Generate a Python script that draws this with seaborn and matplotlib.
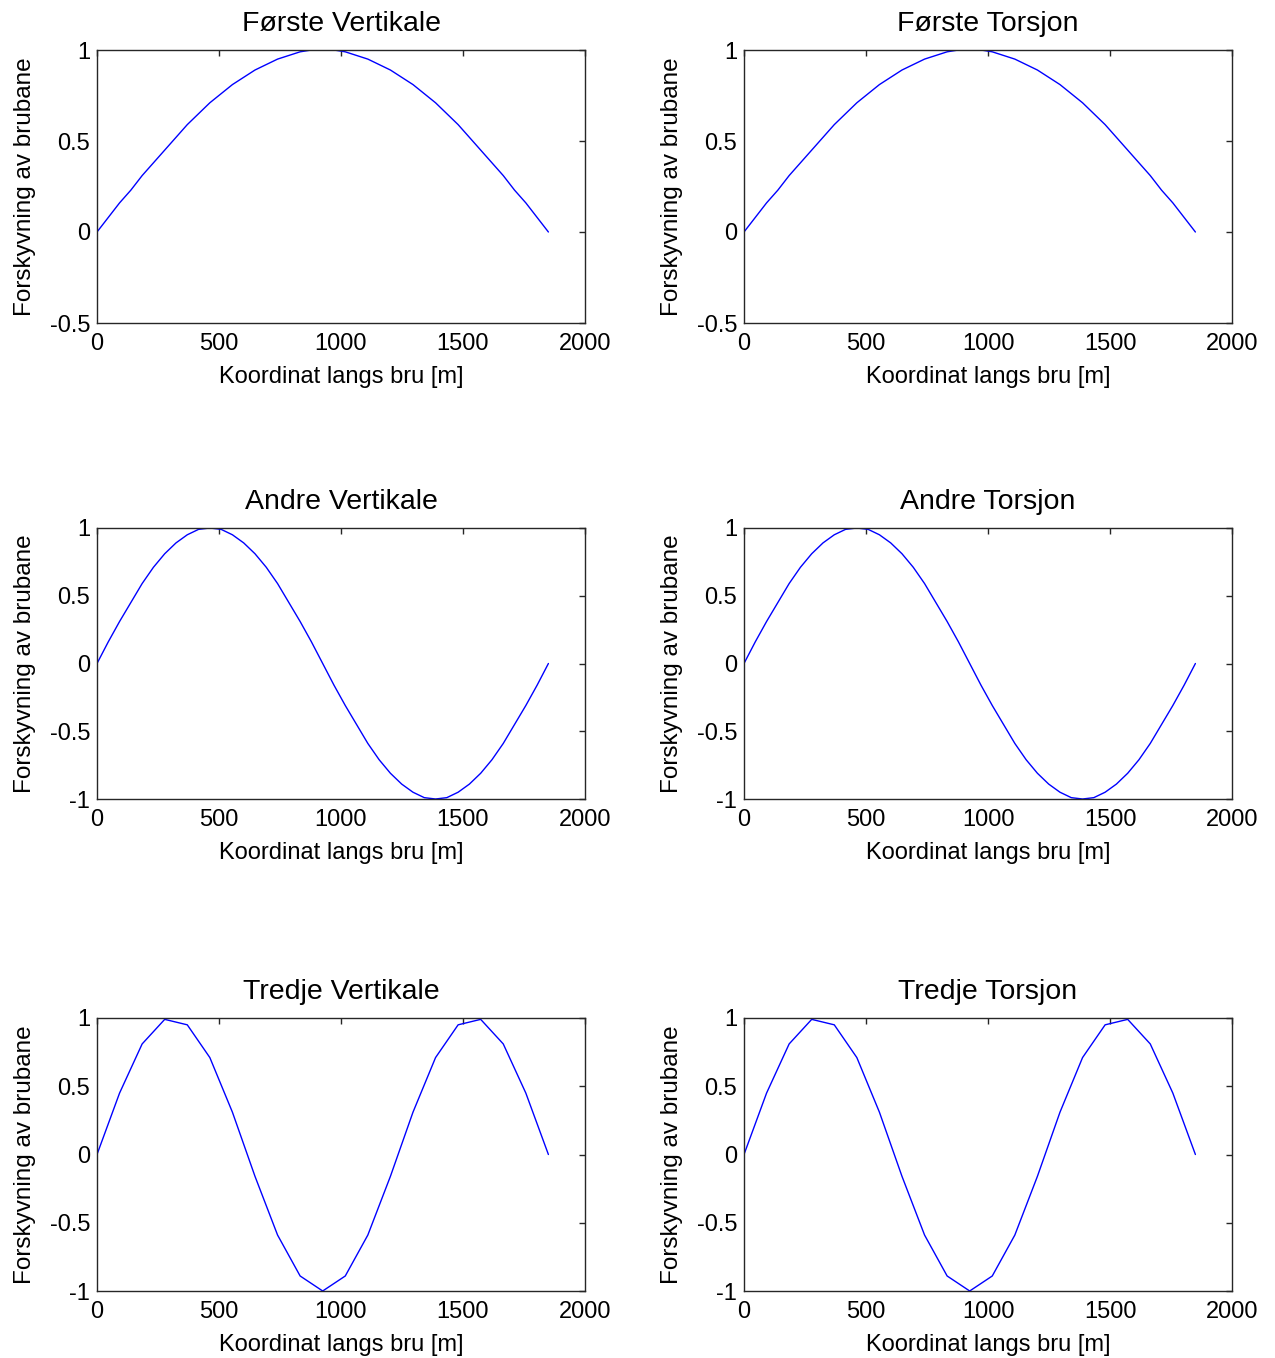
import matplotlib
matplotlib.use("Agg")
import matplotlib.pyplot as plt
import seaborn as sns
import pandas as pd

# ---- data -------------------------------------------------------------
# fine node set (modes 1 and 2)
x_fine = [0, 46.25, 92.5, 138.75, 185, 231.25, 277.5, 323.75, 370, 416.25,
          462.5, 508.75, 555, 601.25, 647.5, 693.75, 740, 786.25, 832.5, 878.75,
          925, 971.25, 1017.5, 1063.75, 1110, 1156.25, 1202.5, 1248.75, 1295, 1341.25,
          1387.5, 1433.75, 1480, 1526.25, 1572.5, 1618.75, 1665, 1711.25, 1757.5, 1803.75,
          1850]
# coarse node set (mode 3)
x_coarse = [0, 92.5, 185, 277.5, 370, 462.5, 555, 647.5, 740, 832.5, 925,
            1017.5, 1110, 1202.5, 1295, 1387.5, 1480, 1572.5, 1665, 1757.5, 1850]

forste_vertikale = [0, 0.08, 0.16, 0.23, 0.31, 0.38, 0.45, 0.52, 0.59, 0.65,
                    0.71, 0.76, 0.81, 0.85, 0.89, 0.92, 0.95, 0.97, 0.99, 1.0,
                    1.0, 1.0, 0.99, 0.97, 0.95, 0.92, 0.89, 0.85, 0.81, 0.76,
                    0.71, 0.65, 0.59, 0.52, 0.45, 0.38, 0.31, 0.23, 0.16, 0.08, 0]
forste_torsjon = [0, 0.08, 0.16, 0.23, 0.31, 0.38, 0.45, 0.52, 0.59, 0.65,
                  0.71, 0.76, 0.81, 0.85, 0.89, 0.92, 0.95, 0.97, 0.99, 1.0,
                  1.0, 1.0, 0.99, 0.97, 0.95, 0.92, 0.89, 0.85, 0.81, 0.76,
                  0.71, 0.65, 0.59, 0.52, 0.45, 0.38, 0.31, 0.23, 0.16, 0.08, 0]
andre_vertikale = [0, 0.16, 0.31, 0.45, 0.59, 0.71, 0.81, 0.89, 0.95, 0.99,
                   1.0, 0.99, 0.95, 0.89, 0.81, 0.71, 0.59, 0.45, 0.31, 0.16,
                   0, -0.16, -0.31, -0.45, -0.59, -0.71, -0.81, -0.89, -0.95, -0.99,
                   -1.0, -0.99, -0.95, -0.89, -0.81, -0.71, -0.59, -0.45, -0.31, -0.16, 0]
andre_torsjon = [0, 0.16, 0.31, 0.45, 0.59, 0.71, 0.81, 0.89, 0.95, 0.99,
                 1.0, 0.99, 0.95, 0.89, 0.81, 0.71, 0.59, 0.45, 0.31, 0.16,
                 0, -0.16, -0.31, -0.45, -0.59, -0.71, -0.81, -0.89, -0.95, -0.99,
                 -1.0, -0.99, -0.95, -0.89, -0.81, -0.71, -0.59, -0.45, -0.31, -0.16, 0]
tredje_vertikale = [0, 0.45, 0.81, 0.99, 0.95, 0.71, 0.31, -0.16, -0.59, -0.89, -1.0,
                    -0.89, -0.59, -0.16, 0.31, 0.71, 0.95, 0.99, 0.81, 0.45, 0]
tredje_torsjon = [0, 0.45, 0.81, 0.99, 0.95, 0.71, 0.31, -0.16, -0.59, -0.89, -1.0,
                  -0.89, -0.59, -0.16, 0.31, 0.71, 0.95, 0.99, 0.81, 0.45, 0]

titles = ["Første Vertikale", "Første Torsjon",
          "Andre Vertikale", "Andre Torsjon",
          "Tredje Vertikale", "Tredje Torsjon"]
series = [(x_fine, forste_vertikale), (x_fine, forste_torsjon),
          (x_fine, andre_vertikale), (x_fine, andre_torsjon),
          (x_coarse, tredje_vertikale), (x_coarse, tredje_torsjon)]

x_ticks = [0, 500, 1000, 1500, 2000]
y_ticks_row1 = [-0.5, 0, 0.5, 1]
y_ticks_rest = [-1, -0.5, 0, 0.5, 1]
x_label = "Koordinat langs bru [m]"
y_label = "Forskyvning av brubane"

# ---- style ------------------------------------------------------------
sns.set_style("white")
plt.rcParams["font.family"] = ["Liberation Sans", "DejaVu Sans"]
plt.rcParams["text.color"] = "black"
plt.rcParams["axes.labelcolor"] = "black"
plt.rcParams["axes.edgecolor"] = "#262626"
plt.rcParams["axes.linewidth"] = 1.0

W, H = 1275, 1358
fig = plt.figure(figsize=(W / 100, H / 100), dpi=100)

col_left = [97, 744]
ax_w = 488
rows = [(50, 323), (528, 799), (1018, 1291)]

def fmt(v):
    if float(v).is_integer():
        return str(int(v))
    return ("%g" % v)

for i, (title, (xs, vals)) in enumerate(zip(titles, series)):
    r, c = divmod(i, 2)
    top, bot = rows[r]
    ax = fig.add_axes([col_left[c] / W, 1 - bot / H, ax_w / W, (bot - top) / H])
    df = pd.DataFrame({"x": xs, "y": vals})
    sns.lineplot(data=df, x="x", y="y", ax=ax, color="#0000ff", linewidth=1.0,
                 sort=False, estimator=None)
    ax.set_xlim(0, 2000)
    yt = y_ticks_row1 if r == 0 else y_ticks_rest
    ax.set_ylim(yt[0], yt[-1])
    ax.set_xticks(x_ticks)
    ax.set_xticklabels([fmt(v) for v in x_ticks])
    ax.set_yticks(yt)
    ax.set_yticklabels([fmt(v) for v in yt])
    ax.tick_params(direction="in", length=4, width=1, top=True, right=True,
                   labelsize=17, colors="#262626", pad=5)
    ax.tick_params(axis="x", pad=7)
    for lab in ax.get_xticklabels() + ax.get_yticklabels():
        lab.set_color("black")
    ax.set_xlabel(x_label, fontsize=17, labelpad=8)
    ax.set_ylabel(y_label, fontsize=17.5, labelpad=10)
    ax.set_title(title, fontsize=20.5, pad=14)
    for s in ax.spines.values():
        s.set_visible(True)

fig.savefig("out.png", dpi=100, facecolor="white")
